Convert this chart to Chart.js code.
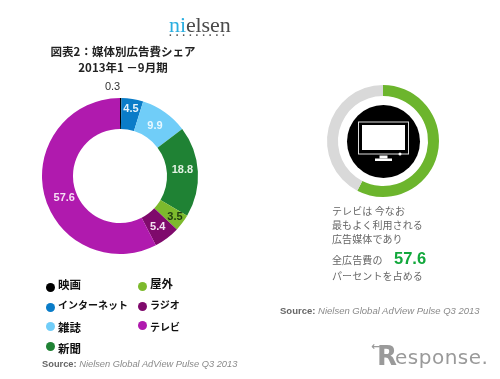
<!DOCTYPE html>
<html lang="ja">
<head>
<meta charset="utf-8">
<script src="https://cdn.jsdelivr.net/npm/chart.js@4"></script>
<style>
    html, body { margin: 0; padding: 0; background: #fff; }
    #page { position: relative; width: 500px; height: 379px; overflow: hidden; filter: blur(0.45px); font-family: "Noto Sans CJK JP", sans-serif; }
    #page > * { position: absolute; white-space: nowrap; }
    .title { width: 240px; left: 3px; text-align: center; font-size: 11.5px; font-weight: 700; color: #222; line-height: 14px; }
    .legendDot { width: 9px; height: 9px; border-radius: 50%; }
    .legendText { font-size: 10px; font-weight: 700; color: #111; line-height: 14px; }
    .legendText.kanji { font-size: 11.5px; }
    .note { left: 332px; font-size: 10px; letter-spacing: 0.1px; color: #666; line-height: 14px; }
    .source { font-family: "Liberation Sans", sans-serif; font-size: 9.3px; font-style: italic; color: #8a8a8a; line-height: 12px; }
    .source b { font-style: normal; color: #666; }
</style>
</head>
<body>
<div id="page">
    <div style="left:169px;top:12px;font:22px/26px 'Liberation Serif',serif;color:#4a4a4a;letter-spacing:-0.1px"><span style="color:#2aaee0">ni</span>elsen</div>
    <div style="left:169px;top:28px;font:700 10px/10px 'Liberation Sans',sans-serif;color:#555;letter-spacing:3.85px">.........</div>
    <div class="title" style="top:44px">図表2：媒体別広告費シェア</div>
    <div class="title" style="top:60px">2013年1 －9月期</div>

    <div style="left:30px;top:76px;width:180px;height:200px"><canvas id="shareChart"></canvas></div>
    <div style="left:303px;top:61px;width:160px;height:160px"><canvas id="tvChart"></canvas></div>

    <div class="source" style="left:42px;top:358px"><b>Source:</b> Nielsen Global AdView Pulse Q3 2013</div>
    <div class="note" style="top:204px">テレビは 今なお</div>
    <div class="note" style="top:218px">最もよく利用される</div>
    <div class="note" style="top:232px">広告媒体であり</div>
    <div class="note" style="top:253px">全広告費の</div>
    <div style="left:394px;top:248px;font:700 16.5px/20px 'Liberation Sans',sans-serif;color:#12a83c" id="tvShare"></div>
    <div class="note" style="top:269px">パーセントを占める</div>
    <div class="source" style="left:280px;top:305px;font-size:9.5px"><b>Source:</b> Nielsen Global AdView Pulse Q3 2013</div>
    <div style="left:371px;top:340px;font:700 11px/14px 'DejaVu Sans',sans-serif;color:#9a9a9a">←</div>
    <div style="left:377px;top:340px;font:700 26px/32px 'DejaVu Sans',sans-serif;color:#9a9a9a">R</div>
    <div style="left:395px;top:343px;font:400 20px/28px 'DejaVu Sans',sans-serif;color:#9a9a9a;letter-spacing:0.5px">esponse.</div>
</div>

<script>
    const categories = ["映画", "インターネット", "雑誌", "新聞", "屋外", "ラジオ", "テレビ"];
    const shareValues = [0.3, 4.5, 9.9, 18.8, 3.5, 5.4, 57.6];
    const shareColors = ["#000000", "#0a7cc8", "#70cdf8", "#1f8234", "#7dba2d", "#7f0a6c", "#b01aae"];
    const labelColors = ["#333333", "#e8f4fb", "#e8f8ff", "#e4f2e4", "#1e3a10", "#f4e4f2", "#f6e0f4"];
    const tvValues = [57.6, 42.4];
    const tvColors = ["#6cb52d", "#d9d9d9"];

    // legend rows, filled column by column: dot x, dot y, text middle y
    const legendSpots = [[46, 283, 284], [46, 303, 305], [46, 322, 327], [46, 342, 348], [138, 282, 283], [138, 302, 305], [138, 321, 327]];
    // small hand nudges for the ring labels
    const labelNudge = [[-8, 0], [1, -5], [-1, 1], [0, -2], [5, 3], [0, 1], [5, 7]];

    const page = document.getElementById("page");
    categories.forEach((name, i) => {
        const spot = legendSpots[i];
        const dot = document.createElement("div");
        dot.className = "legendDot";
        dot.style.cssText = `left:${spot[0]}px;top:${spot[1]}px;background:${shareColors[i]}`;
        page.appendChild(dot);
        const text = document.createElement("div");
        text.className = name.length > 3 || name === "ラジオ" || name === "テレビ" ? "legendText" : "legendText kanji";
        text.textContent = name;
        text.style.cssText = `left:${spot[0] + 12}px;top:${spot[2] - 7}px`;
        page.appendChild(text);
    });
    document.getElementById("tvShare").textContent = tvValues[0];

    const ringLabels = {
        id: "ringLabels",
        afterDatasetsDraw(chart) {
            const ctx = chart.ctx;
            ctx.save();
            ctx.textAlign = "center";
            ctx.textBaseline = "middle";
            chart.getDatasetMeta(0).data.forEach((arc, i) => {
                const pos = arc.tooltipPosition();
                ctx.fillStyle = labelColors[i];
                if (i === 0) {
                    // the black sliver is too thin, so its label sits above the ring
                    ctx.font = "11px 'Liberation Sans', sans-serif";
                    ctx.fillText(shareValues[i], pos.x + labelNudge[i][0], chart.chartArea.top + 11);
                } else {
                    ctx.font = "bold 11px 'Liberation Sans', sans-serif";
                    ctx.fillText(shareValues[i], pos.x + labelNudge[i][0], pos.y + labelNudge[i][1]);
                }
            });
            ctx.restore();
        }
    };

    // black disc and the little television in the middle of the right ring
    const tvIcon = {
        id: "tvIcon",
        beforeDatasetsDraw(chart) {
            const arc = chart.getDatasetMeta(0).data[0];
            const cx = arc.x + 0.5, cy = arc.y + 0.5;
            const ctx = chart.ctx;
            ctx.save();
            ctx.fillStyle = "#000";
            ctx.beginPath();
            ctx.arc(cx, cy, 36.5, 0, Math.PI * 2);
            ctx.fill();
            ctx.strokeStyle = "#ddd";
            ctx.lineWidth = 1;
            ctx.strokeRect(cx - 25, cy - 19.5, 50, 32);
            ctx.fillStyle = "#fff";
            ctx.fillRect(cx - 21.5, cy - 16.5, 43, 25);
            ctx.fillRect(cx - 8.5, cy + 17, 17, 2.5);
            ctx.fillRect(cx - 4, cy + 14, 8, 3);
            ctx.beginPath();
            ctx.arc(cx + 16.5, cy + 12.5, 1.5, 0, Math.PI * 2);
            ctx.fill();
            ctx.restore();
        }
    };

    new Chart(document.getElementById("shareChart"), {
        type: "doughnut",
        data: {
            labels: categories,
            datasets: [{
                data: shareValues,
                backgroundColor: shareColors,
                borderWidth: 0
            }]
        },
        options: {
            responsive: true,
            maintainAspectRatio: false,
            animation: false,
            radius: 78,
            cutout: "60.3%",
            plugins: { legend: { display: false }, tooltip: { enabled: false } }
        },
        plugins: [ringLabels]
    });

    new Chart(document.getElementById("tvChart"), {
        type: "doughnut",
        data: {
            labels: ["テレビ", "その他"],
            datasets: [{
                data: tvValues,
                backgroundColor: tvColors,
                borderWidth: 0
            }]
        },
        options: {
            responsive: true,
            maintainAspectRatio: false,
            animation: false,
            radius: 56,
            cutout: "80.4%",
            plugins: { legend: { display: false }, tooltip: { enabled: false } }
        },
        plugins: [tvIcon]
    });
</script>
</body>
</html>
